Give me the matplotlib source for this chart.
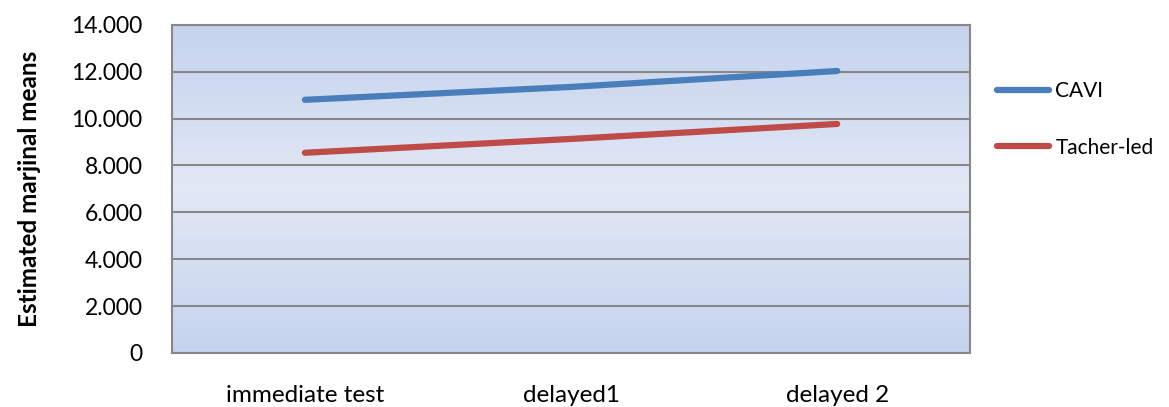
import numpy as np
import matplotlib.pyplot as plt
from matplotlib.colors import LinearSegmentedColormap

plt.rcParams['font.family'] = ['Lato', 'DejaVu Sans']

categories = ['immediate test', 'delayed1', 'delayed 2']
cavi = [10.80, 11.35, 12.03]
teacher = [8.54, 9.13, 9.77]
yticks = [0, 2, 4, 6, 8, 10, 12, 14]
ylabels = ['0', '2.000', '4.000', '6.000', '8.000', '10.000', '12.000', '14.000']

fig = plt.figure(figsize=(11.69, 4.07), dpi=100)
ax = fig.add_axes([0.147, 0.133, 0.683, 0.806])

# gradient background like the excel plot area
cmap = LinearSegmentedColormap.from_list('bg', ['#c5d3ee', '#e2e8f5', '#c5d3ee'])
grad = np.linspace(0, 1, 256).reshape(-1, 1)
ax.imshow(grad, cmap=cmap, aspect='auto', extent=[0, 1, 0, 1],
          transform=ax.transAxes, zorder=0)

x = np.arange(len(categories))
ax.plot(x, cavi, color='#4a7ebb', lw=4.5, solid_capstyle='round', label='CAVI', zorder=3)
ax.plot(x, teacher, color='#be4b48', lw=4.5, solid_capstyle='round', label='Tacher-led', zorder=3)

ax.set_xlim(-0.5, 2.5)
ax.set_ylim(0, 14)
ax.set_yticks(yticks)
ax.set_yticklabels(ylabels, fontsize=16.5)
ax.set_xticks(x)
ax.set_xticklabels(categories, fontsize=17.5)
ax.tick_params(axis='x', length=0, pad=23)
ax.tick_params(axis='y', length=0, pad=21)
ax.grid(axis='y', color='#888888', lw=1.5, zorder=1)
ax.set_axisbelow(False)
for s in ax.spines.values():
    s.set_color('#888888')
    s.set_linewidth(1.5)

ax.set_ylabel('Estimated marjinal means', fontsize=17.5, fontweight='bold', labelpad=22)

leg = ax.legend(loc='upper left', bbox_to_anchor=(1.01, 0.885), frameon=False,
                fontsize=15, handlelength=2.5, handletextpad=0.3, labelspacing=1.75)

fig.savefig('out.png', dpi=100)
